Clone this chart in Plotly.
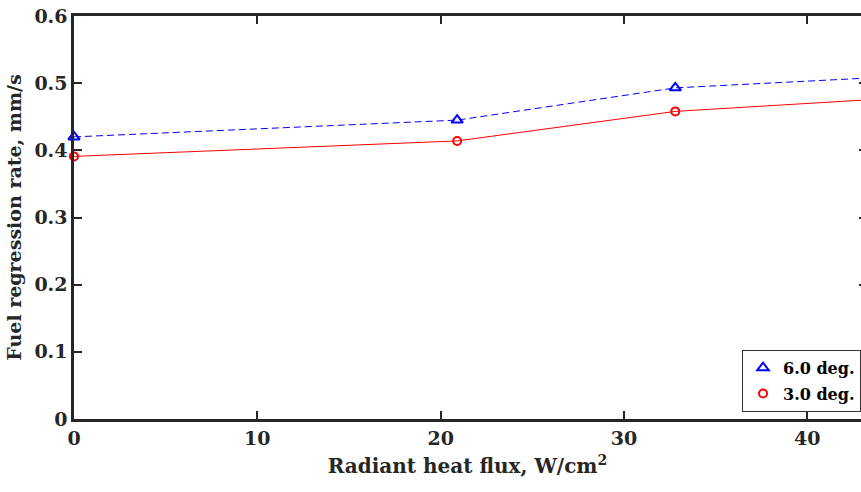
import plotly.graph_objects as go

heat_flux = [0, 20.9, 32.8, 45.0]
rate_6deg = [0.420, 0.445, 0.493, 0.510]
rate_3deg = [0.391, 0.414, 0.458, 0.478]
x_ticks = [0, 10, 20, 30, 40]
y_ticks = [0, 0.1, 0.2, 0.3, 0.4, 0.5, 0.6]
y_tick_text = ["0", "0.1", "0.2", "0.3", "0.4", "0.5", "0.6"]

FONT = "DejaVu Serif"
AX = "#262626"

fig = go.Figure()
fig.add_trace(go.Scatter(x=heat_flux, y=rate_6deg, mode="lines",
                         line=dict(color="#0000ff", width=1, dash="7px,4px"),
                         showlegend=False, hoverinfo="skip"))
fig.add_trace(go.Scatter(x=heat_flux, y=rate_3deg, mode="lines",
                         line=dict(color="#ff0000", width=1),
                         showlegend=False, hoverinfo="skip"))
fig.add_trace(go.Scatter(x=heat_flux, y=rate_6deg, mode="markers", name="6.0 deg.",
                         legendgroup="a",
                         marker=dict(symbol="triangle-up-open", size=10, color="#0000ff",
                                     line=dict(width=2)),
                         cliponaxis=False))
fig.add_trace(go.Scatter(x=heat_flux, y=rate_3deg, mode="markers", name="3.0 deg.",
                         legendgroup="b",
                         marker=dict(symbol="circle-open", size=8, color="#ff0000",
                                     line=dict(width=2)),
                         cliponaxis=False))
# invisible trace anchoring the right-hand tick axis
fig.add_trace(go.Scatter(x=[0], y=[0], yaxis="y2", mode="markers",
                         marker=dict(opacity=0), showlegend=False, hoverinfo="skip"))

fig.update_layout(
    width=861, height=492,
    margin=dict(l=74, r=0, t=16, b=73, autoexpand=False),
    plot_bgcolor="white", paper_bgcolor="white",
    font=dict(family=FONT, size=18, color=AX),
    xaxis=dict(range=[0, 42.93], tickvals=x_ticks, ticks="inside", ticklen=8,
               tickwidth=2, tickcolor=AX, showline=True, linewidth=2.5, linecolor=AX,
               mirror="ticks", showgrid=False, zeroline=False,
               ticklabeloverflow="allow",
               tickfont=dict(family=FONT, size=19, color=AX, weight="bold"),
               title=dict(text="<b>Radiant heat flux, W/cm<sup>2</sup></b>",
                          font=dict(family=FONT, size=20, color=AX), standoff=12)),
    yaxis=dict(range=[0, 0.6], tickvals=y_ticks, ticktext=y_tick_text, ticks="inside",
               ticklen=8, tickwidth=2, tickcolor=AX, showline=True, linewidth=2.5,
               linecolor=AX, mirror=False, showgrid=False, zeroline=False,
               ticklabeloverflow="allow",
               tickfont=dict(family=FONT, size=19, color=AX, weight="bold"),
               title=dict(text="<b>Fuel regression rate, mm/s</b>",
                          font=dict(family=FONT, size=19, color=AX), standoff=8)),
    yaxis2=dict(range=[0, 0.6], tickvals=y_ticks, overlaying="y", side="right",
                ticks="inside", ticklen=2, tickwidth=2, tickcolor=AX,
                showline=False, showgrid=False, zeroline=False, showticklabels=False),
    legend=dict(x=1, xanchor="right", y=0.018, yanchor="bottom",
                bordercolor="#333333", borderwidth=1, bgcolor="white",
                font=dict(family=FONT, size=16, color="black", weight="bold"),
                itemwidth=30, tracegroupgap=2),
)

fig.write_html("out.html", config={"displayModeBar": False},
               post_script="document.body.style.margin='0';")
